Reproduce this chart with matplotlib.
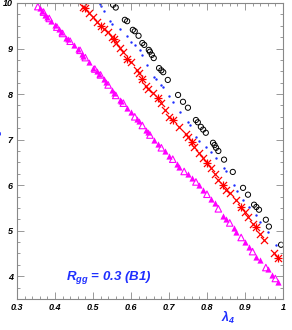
import matplotlib
matplotlib.use("Agg")
import matplotlib.pyplot as plt
from matplotlib.ticker import MultipleLocator

plt.rcParams["mathtext.fontset"] = "custom"
plt.rcParams["mathtext.it"] = "Liberation Sans:bold:italic"
plt.rcParams["mathtext.rm"] = "Liberation Sans:bold:italic"

# magenta triangles
tri_x = [0.355, 0.36, 0.365, 0.37, 0.375, 0.38, 0.385, 0.39, 0.40, 0.405, 0.41, 0.415, 0.42, 0.43,
         0.435, 0.44, 0.45, 0.46, 0.466, 0.47, 0.475, 0.48, 0.49, 0.50, 0.505, 0.51, 0.515, 0.52,
         0.53, 0.535, 0.54, 0.55, 0.555, 0.56, 0.57, 0.575, 0.58, 0.59, 0.60, 0.61, 0.615, 0.62,
         0.63, 0.64, 0.645, 0.65, 0.66, 0.67, 0.68, 0.69, 0.70, 0.71, 0.72, 0.726, 0.74, 0.75,
         0.76, 0.771, 0.78, 0.79, 0.80, 0.81, 0.82, 0.83, 0.842, 0.85, 0.86, 0.87, 0.876, 0.89,
         0.90, 0.91, 0.92, 0.93, 0.94, 0.955, 0.96, 0.97, 0.98, 0.987]
tri_y = [9.92, 9.88, 9.83, 9.80, 9.74, 9.70, 9.66, 9.60, 9.52, 9.47, 9.42, 9.36, 9.33, 9.24,
         9.20, 9.16, 9.08, 9.00, 8.96, 8.88, 8.84, 8.80, 8.70, 8.58, 8.55, 8.50, 8.44, 8.42,
         8.32, 8.27, 8.20, 8.08, 8.02, 7.97, 7.88, 7.84, 7.80, 7.70, 7.60, 7.50, 7.45, 7.40,
         7.31, 7.22, 7.17, 7.10, 7.00, 6.90, 6.82, 6.75, 6.65, 6.57, 6.46, 6.40, 6.30, 6.25,
         6.15, 6.07, 6.00, 5.90, 5.80, 5.70, 5.60, 5.48, 5.32, 5.25, 5.17, 5.05, 4.98, 4.85,
         4.75, 4.64, 4.54, 4.42, 4.35, 4.19, 4.15, 4.02, 3.95, 3.88]

# red crosses
red_x = [0.474, 0.48, 0.49, 0.50, 0.51, 0.52, 0.53, 0.54, 0.55, 0.555, 0.56, 0.57, 0.58, 0.59,
         0.60, 0.615, 0.62, 0.63, 0.64, 0.645, 0.658, 0.67, 0.679, 0.69, 0.70, 0.71, 0.726,
         0.745, 0.75, 0.76, 0.766, 0.78, 0.789, 0.80, 0.81, 0.82, 0.83, 0.842, 0.85, 0.86,
         0.876, 0.89, 0.90, 0.908, 0.92, 0.929, 0.94, 0.95, 0.976, 0.987]
red_y = [9.92, 9.88, 9.78, 9.70, 9.58, 9.50, 9.42, 9.36, 9.25, 9.20, 9.12, 9.02, 8.92, 8.78,
         8.70, 8.53, 8.46, 8.32, 8.18, 8.10, 8.02, 7.92, 7.80, 7.65, 7.50, 7.42, 7.28,
         7.12, 7.05, 6.95, 6.84, 6.70, 6.60, 6.48, 6.38, 6.25, 6.12, 6.00, 5.90, 5.82,
         5.68, 5.52, 5.40, 5.29, 5.15, 5.07, 4.92, 4.80, 4.52, 4.41]

# blue dots
dot_x = [0.518, 0.52, 0.53, 0.545, 0.55, 0.57, 0.589, 0.60, 0.61, 0.624, 0.63, 0.642, 0.66,
         0.665, 0.679, 0.685, 0.70, 0.71, 0.73, 0.75, 0.755, 0.771, 0.78, 0.797, 0.81, 0.824,
         0.845, 0.85, 0.87, 0.88, 0.895, 0.91, 0.929, 0.94, 0.96, 0.982]
dot_y = [9.98, 9.94, 9.82, 9.60, 9.54, 9.42, 9.27, 9.15, 9.08, 8.97, 8.85, 8.64, 8.38,
         8.32, 8.20, 8.15, 7.95, 7.83, 7.60, 7.39, 7.32, 7.06, 6.98, 6.84, 6.72, 6.60,
         6.38, 6.30, 6.00, 5.88, 5.68, 5.52, 5.35, 5.20, 4.98, 4.69]

# black open circles
circ_x = [0.553, 0.56, 0.584, 0.59, 0.605, 0.61, 0.62, 0.63, 0.635, 0.647, 0.65, 0.655, 0.66,
          0.674, 0.68, 0.685, 0.697, 0.724, 0.737, 0.75, 0.771, 0.776, 0.784, 0.79, 0.797,
          0.816, 0.82, 0.824, 0.83, 0.845, 0.868, 0.895, 0.908, 0.924, 0.93, 0.937, 0.955,
          0.963, 0.995]
circ_y = [9.96, 9.90, 9.63, 9.60, 9.41, 9.38, 9.28, 9.12, 9.08, 8.97, 8.93, 8.86, 8.79,
          8.57, 8.52, 8.48, 8.31, 7.98, 7.83, 7.70, 7.43, 7.38, 7.28, 7.22, 7.15,
          6.93, 6.88, 6.82, 6.75, 6.56, 6.29, 5.94, 5.79, 5.57, 5.52, 5.46, 5.24,
          5.09, 4.69]

xticks = [0.3, 0.4, 0.5, 0.6, 0.7, 0.8, 0.9, 1.0]
xlabels = ["0.3", "0.4", "0.5", "0.6", "0.7", "0.8", "0.9", "1"]
yticks = [4, 5, 6, 7, 8, 9, 10]

blue = "#1f2fff"
magenta = "#ff00ff"
fig = plt.figure(figsize=(2.92, 3.30), dpi=100)
ax = fig.add_axes([0.058, 0.094, 0.911, 0.897])

# filled and open triangles mixed
ax.scatter(tri_x[::3], tri_y[::3], marker="^", s=22, facecolors="none", edgecolors=magenta, linewidths=0.8)
ax.scatter(tri_x[1::3] + tri_x[2::3], tri_y[1::3] + tri_y[2::3], marker="^", s=20,
           color=magenta, linewidths=0)
ax.scatter(red_x, red_y, marker="x", s=26, color="red", linewidths=0.9)
ax.scatter(red_x[1::4], red_y[1::4], marker="+", s=30, color="red", linewidths=0.9)
ax.scatter(dot_x, dot_y, marker="o", s=3, color=blue, linewidths=0)
ax.scatter(circ_x, circ_y, marker="o", s=14, facecolors="none", edgecolors="black", linewidths=0.7)

ax.set_xlim(0.3, 1.0)
ax.set_ylim(3.5, 10)
ax.xaxis.set_minor_locator(MultipleLocator(0.02))
ax.yaxis.set_minor_locator(MultipleLocator(0.25))
ax.set_xticks(xticks)
ax.set_xticklabels(xlabels)
ax.set_yticks(yticks)
ax.set_yticklabels([str(v) for v in yticks])
ax.tick_params(which="both", direction="in", top=True, right=True, color="#888888", width=0.6,
               labelsize=6.5, pad=3)
ax.tick_params(which="major", length=5)
ax.tick_params(which="minor", length=2.5)
for lab in ax.get_xticklabels() + ax.get_yticklabels():
    lab.set_fontweight("bold")
    lab.set_fontstyle("italic")
    lab.set_family("Liberation Sans")
for sp in ax.spines.values():
    sp.set_color("#888888")
    sp.set_linewidth(0.8)

ax.text(0.185, 0.065, r"$R_{gg}$ = 0.3 (B1)", transform=ax.transAxes,
        color=blue, fontsize=9.5, fontweight="bold", fontstyle="italic", family="Liberation Sans")

fig.text(0.78, 0.025, r"$\lambda_4$", color=blue, fontsize=9, ha="center")
# y label is cut off at the left edge in the original
fig.text(-0.012, 0.59, r"$\lambda_5$", color=blue, fontsize=9, rotation=90, va="center", ha="center")

fig.savefig("out.png", dpi=100)
